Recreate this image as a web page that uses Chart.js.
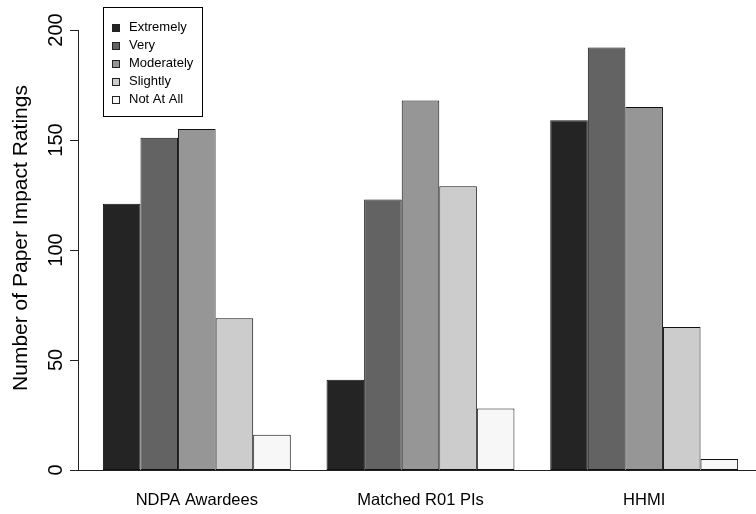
<!DOCTYPE html>
<html>
<head>
<meta charset="utf-8">
<script src="https://cdn.jsdelivr.net/npm/chart.js@4"></script>
<style>
  body { margin: 0; background: #fff; }
  canvas { display: block; }
</style>
</head>
<body>
<canvas id="chart" width="756" height="514"></canvas>
<script>
// groups and rating levels
const groups = ["NDPA Awardees", "Matched R01 PIs", "HHMI"];
const levels = ["Extremely", "Very", "Moderately", "Slightly", "Not At All"];

// counts per level, one entry per group
const extremely = [121, 41, 159];
const very = [151, 123, 192];
const moderately = [155, 168, 165];
const slightly = [69, 129, 65];
const notAtAll = [16, 28, 5];

const yTicks = [0, 50, 100, 150, 200];
const yTitle = "Number of Paper Impact Ratings";

const fills = ["#242424", "#636363", "#969696", "#cccccc", "#f7f7f7"];
const FONT = "'Liberation Sans', Arial, sans-serif";

const series = [extremely, very, moderately, slightly, notAtAll];

// R-style y axis, baseline and boxed legend
const rStyle = {
  id: "rStyle",
  afterDatasetsDraw(chart) {
    const ctx = chart.ctx;
    const y = chart.scales.y;
    ctx.save();
    ctx.strokeStyle = "#222";
    ctx.lineWidth = 1;

    // baseline at zero
    const y0 = Math.round(y.getPixelForValue(0)) + 0.5;
    ctx.beginPath();
    ctx.moveTo(78, y0);
    ctx.lineTo(chart.width, y0);
    ctx.stroke();

    // axis line + ticks
    const ax = 78.5;
    ctx.beginPath();
    ctx.moveTo(ax, y.getPixelForValue(yTicks[0]));
    ctx.lineTo(ax, y.getPixelForValue(yTicks[yTicks.length - 1]));
    yTicks.forEach((v) => {
      const py = Math.round(y.getPixelForValue(v)) + 0.5;
      ctx.moveTo(70, py);
      ctx.lineTo(ax, py);
    });
    ctx.stroke();

    ctx.fillStyle = "#000";
    ctx.font = "20px " + FONT;
    ctx.textAlign = "center";
    ctx.textBaseline = "alphabetic";
    yTicks.forEach((v) => {
      ctx.save();
      ctx.translate(62, y.getPixelForValue(v));
      ctx.rotate(-Math.PI / 2);
      ctx.fillText(String(v), 0, 0);
      ctx.restore();
    });

    // axis title (R centres it a bit above the axis middle)
    ctx.font = "21px " + FONT;
    ctx.save();
    ctx.translate(27, 238);
    ctx.rotate(-Math.PI / 2);
    ctx.fillText(yTitle, 0, 0);
    ctx.restore();

    // legend
    const lx = 103, ly = 7, lw = 99, lh = 109;
    ctx.fillStyle = "#fff";
    ctx.fillRect(lx, ly, lw, lh);
    ctx.strokeStyle = "#000";
    ctx.strokeRect(lx + 0.5, ly + 0.5, lw, lh);
    ctx.font = "13px " + FONT;
    ctx.textAlign = "left";
    ctx.textBaseline = "middle";
    chart.data.datasets.forEach((ds, i) => {
      const ry = 27.5 + i * 18.1;
      ctx.fillStyle = ds.backgroundColor;
      ctx.fillRect(112, Math.round(ry - 4), 8, 8);
      ctx.strokeStyle = "#222";
      ctx.strokeRect(112.5, Math.round(ry - 4) + 0.5, 7, 7);
      ctx.fillStyle = "#000";
      ctx.fillText(ds.label, 129, ry);
    });
    ctx.restore();
  },
};

new Chart(document.getElementById("chart"), {
  type: "bar",
  data: {
    labels: groups,
    datasets: levels.map((name, i) => ({
      label: name,
      data: series[i],
      backgroundColor: fills[i],
      borderColor: "#111",
      borderWidth: 1,
      borderSkipped: false,
      categoryPercentage: 0.84,
      barPercentage: 1,
    })),
  },
  options: {
    responsive: false,
    animation: false,
    layout: { padding: { left: 85, top: 30, right: 0, bottom: 0 } },
    plugins: {
      legend: { display: false },
      tooltip: { enabled: false },
    },
    scales: {
      x: {
        grid: { display: false },
        border: { display: false },
        ticks: {
          color: "#000",
          padding: 13,
          font: { family: FONT, size: 16.5 },
        },
        afterFit: (scale) => {
          scale.height = 44;
        },
      },
      y: {
        display: false,
        min: 0,
        max: 200,
      },
    },
  },
  plugins: [rStyle],
});
</script>
</body>
</html>
